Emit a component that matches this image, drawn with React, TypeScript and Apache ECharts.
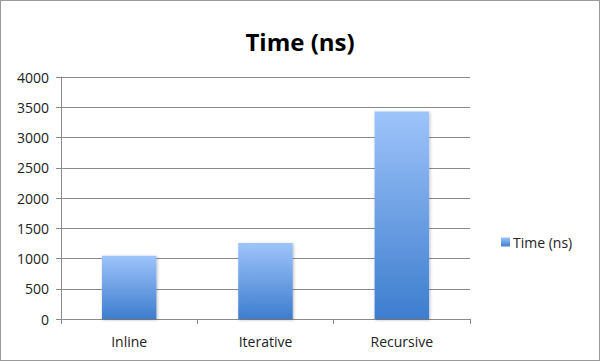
import React, { useEffect, useRef } from "react";
import * as echarts from "echarts";

const categories = ["Inline", "Iterative", "Recursive"];
const seriesName = "Time (ns)";
const values = [1045, 1256, 3430];
const yTicks = { min: 0, max: 4000, interval: 500 };

export default function App() {
  const ref = useRef<HTMLDivElement>(null);
  useEffect(() => {
    document.body.style.margin = "0";
    const chart = echarts.init(ref.current!, null, { renderer: "svg" });
    const grad = new echarts.graphic.LinearGradient(0, 0, 0, 1, [
      { offset: 0, color: "#9EC4FA" },
      { offset: 1, color: "#3D7DCE" },
    ]);
    chart.setOption({
      animation: false,
      backgroundColor: "transparent",
      title: {
        text: "Time (ns)",
        left: "center",
        top: 24,
        textStyle: { fontFamily: "Open Sans", fontWeight: "bold", fontSize: 24, color: "#000" },
      },
      legend: {
        orient: "vertical",
        left: 496,
        top: 230,
        itemWidth: 9,
        itemHeight: 9,
        itemGap: 4,
        icon: "rect",
        textStyle: { fontFamily: "Open Sans", fontSize: 14, color: "#222", padding: [0, 0, 0, -2] },
        data: [seriesName],
      },
      grid: { left: 61, right: 130, top: 77, bottom: 42 },
      xAxis: {
        type: "category",
        data: categories,
        axisLine: { lineStyle: { color: "#8a8a8a", width: 1 } },
        axisTick: { show: true, length: 5, lineStyle: { color: "#8a8a8a" } },
        axisLabel: { fontFamily: "Open Sans", fontSize: 14, color: "#222", margin: 15 },
      },
      yAxis: {
        type: "value",
        min: yTicks.min,
        max: yTicks.max,
        interval: yTicks.interval,
        axisLine: { show: true, lineStyle: { color: "#8a8a8a" } },
        axisTick: { show: true, length: 5, lineStyle: { color: "#8a8a8a" } },
        splitLine: { lineStyle: { color: "#8a8a8a", width: 1 } },
        axisLabel: {
          fontFamily: "Open Sans",
          fontSize: 14,
          color: "#222",
          margin: 12,
          formatter: (v: number) => String(v),
        },
      },
      series: [
        {
          name: seriesName,
          type: "bar",
          data: values,
          barWidth: "40%",
          itemStyle: {
            color: grad,
            shadowColor: "rgba(0,0,0,0.25)",
            shadowBlur: 3,
            shadowOffsetX: 1,
            shadowOffsetY: 1,
          },
        },
      ],
    });
    return () => chart.dispose();
  }, []);
  return (
    <div
      style={{
        position: "relative",
        width: 600,
        height: 361,
        boxSizing: "border-box",
        border: "1px solid #9a9a9a",
        background: "#fff",
      }}
    >
      <div ref={ref} style={{ position: "absolute", left: -1, top: -1, width: 600, height: 361 }} />
    </div>
  );
}
